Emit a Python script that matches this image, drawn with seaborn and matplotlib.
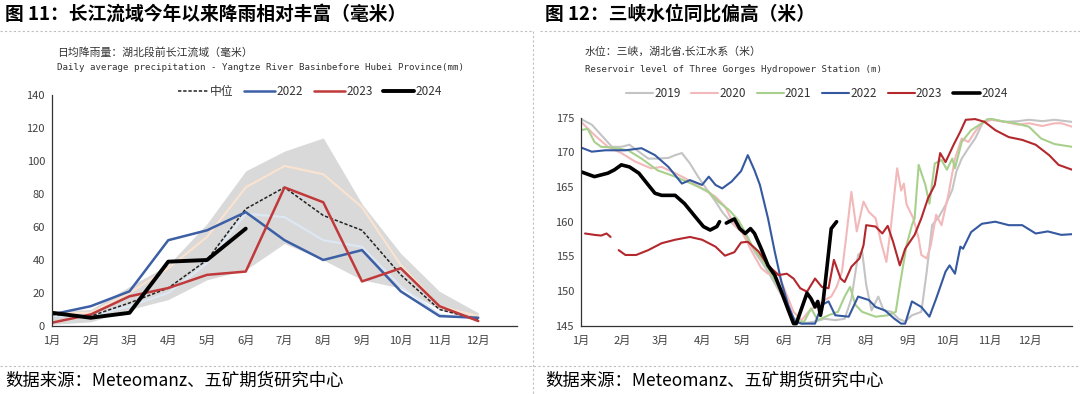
import numpy as np
import pandas as pd
import matplotlib
matplotlib.use('Agg')
import matplotlib.pyplot as plt
from matplotlib.lines import Line2D
import seaborn as sns

sns.set_theme(style='white')
plt.rcParams['font.family'] = ['Noto Sans CJK SC', 'DejaVu Sans']
plt.rcParams['axes.unicode_minus'] = False

# ---------------- left chart: monthly precipitation (mm) ----------------
months = ['1月', '2月', '3月', '4月', '5月', '6月', '7月', '8月', '9月', '10月', '11月', '12月']
rain_max = [9, 10, 24, 37, 62, 94, 106, 114, 74, 44, 21, 8]
rain_min = [1, 2.5, 10, 16, 28, 34, 50, 40, 28, 23, 10, 3]
rain_p75 = [8, 8, 20, 35, 54, 84, 97, 92, 72, 37, 12, 6]
rain_p25 = [6, 6, 12, 20, 38, 68, 66, 52, 48, 24, 7, 4]
rain_median = [7, 6, 14, 23, 40, 71, 84, 67, 58, 31, 10, 4]
rain_2022 = [7, 12, 21, 52, 58, 69, 52, 40, 46, 21, 6, 5]
rain_2023 = [2, 7, 18, 23, 31, 33, 84, 75, 27, 35, 12, 3]
rain_2024 = [8, 5, 8, 39, 40, 59]

# ---------------- right chart: Three Gorges reservoir level (m) ----------------
d2019 = [0, 8, 15, 23, 30, 36, 43, 50, 57, 65, 70, 75, 81, 87, 93, 100, 105, 111, 117, 121, 129, 139, 149,
         157, 164, 174, 181, 189, 196, 201, 206, 209, 212, 216, 221, 225, 231, 236, 241, 246, 253, 257, 261,
         266, 271, 276, 279, 283, 288, 293, 299, 305, 315, 325, 333, 343, 352, 365]
v2019 = [174.8, 174.0, 172.5, 170.8, 170.8, 171.1, 170.1, 169.1, 169.1, 169.2, 169.6, 169.9, 168.4, 166.5,
         164.8, 162.9, 161.4, 160.0, 159.0, 158.5, 155.7, 152.8, 149.4, 146.3, 145.3, 145.6, 146.0, 145.8,
         146.0, 148.9, 155.2, 155.7, 150.9, 147.2, 149.2, 147.2, 147.0, 146.0, 145.6, 146.5, 147.0, 152.8,
         159.5, 160.7, 162.4, 164.6, 167.2, 169.1, 170.6, 172.0, 174.4, 174.8, 174.4, 174.5, 174.7, 174.5,
         174.7, 174.4]

d2020 = [0, 10, 20, 30, 40, 52, 60, 70, 80, 90, 100, 107, 114, 120, 127, 134, 139, 147, 152, 158, 164, 169,
         176, 181, 186, 190, 194, 197, 201, 205, 210, 214, 219, 223, 227, 230, 235, 238, 240, 242, 247, 251,
         253, 257, 260, 264, 268, 273, 278, 283, 288, 293, 298, 305, 315, 325, 333, 343, 352, 357, 365]
v2020 = [174.4, 172.5, 170.8, 169.9, 168.7, 167.7, 167.9, 167.0, 166.0, 164.8, 163.6, 162.2, 159.5, 158.4,
         155.7, 153.3, 152.5, 152.3, 149.9, 147.0, 145.8, 147.0, 148.0, 148.7, 149.2, 150.6, 152.8, 157.6,
         164.3, 158.6, 162.9, 161.4, 160.5, 157.1, 154.2, 158.6, 167.7, 164.5, 165.5, 162.5, 160.5, 157.6,
         155.2, 154.7, 156.6, 161.0, 159.5, 163.8, 169.1, 172.0, 171.5, 173.0, 174.2, 174.7, 174.4, 174.0,
         174.2, 173.8, 174.2, 174.2, 173.7]

d2021 = [0, 5, 10, 15, 23, 35, 45, 57, 70, 82, 95, 102, 110, 117, 122, 127, 139, 149, 155, 159, 166, 171,
         176, 184, 191, 196, 200, 204, 209, 219, 228, 234, 237, 242, 246, 248, 251, 256, 259, 263, 268, 272,
         276, 278, 283, 290, 298, 303, 313, 323, 333, 342, 352, 365]
v2021 = [173.2, 173.4, 171.5, 170.8, 170.7, 170.3, 169.1, 167.4, 166.5, 165.5, 164.3, 162.9, 161.7, 160.2,
         158.5, 156.6, 153.3, 149.9, 147.0, 145.6, 145.6, 147.5, 145.8, 146.5, 147.0, 149.2, 150.6, 148.0,
         147.0, 146.3, 146.5, 147.0, 150.8, 156.6, 159.5, 160.5, 168.2, 165.3, 162.6, 168.4, 168.9, 167.5,
         169.1, 167.7, 171.5, 173.2, 174.2, 174.9, 174.5, 174.2, 173.7, 172.0, 171.2, 170.8]

d2022 = [0, 8, 18, 33, 45, 55, 65, 75, 81, 90, 95, 100, 105, 112, 119, 124, 129, 133, 139, 144, 149, 154,
         159, 164, 174, 179, 184, 189, 199, 206, 214, 219, 226, 233, 238, 241, 246, 253, 259, 264, 271, 274,
         278, 282, 284, 290, 298, 308, 318, 328, 338, 347, 357, 365]
v2022 = [170.7, 170.1, 170.3, 170.3, 170.6, 169.6, 167.9, 165.5, 166.0, 165.3, 166.5, 165.3, 164.8, 165.8,
         167.3, 169.6, 167.4, 165.3, 160.5, 155.7, 151.3, 148.0, 145.6, 145.3, 145.3, 148.0, 148.5, 146.5,
         146.3, 149.2, 148.7, 147.7, 147.2, 146.0, 145.3, 145.3, 148.5, 147.7, 146.3, 148.9, 152.8, 153.7,
         152.5, 156.4, 156.1, 158.5, 159.7, 160.0, 159.5, 159.5, 158.3, 158.6, 158.1, 158.2]

d2023a = [3, 10, 15, 19, 22]
v2023a = [158.3, 158.1, 158.0, 158.3, 157.8]
d2023b = [28, 33, 41, 50, 60, 70, 81, 90, 100, 107, 114, 119, 124, 132, 139, 147, 153, 158, 163, 168, 174,
          179, 184, 188, 193, 196, 201, 207, 210, 212, 219, 224, 228, 232, 237, 241, 248, 253, 258, 263, 267,
          271, 277, 282, 286, 293, 300, 308, 318, 328, 338, 348, 355, 365]
v2023b = [155.9, 155.2, 155.2, 155.9, 156.9, 157.4, 157.8, 157.4, 156.4, 155.1, 155.6, 157.0, 157.1, 155.7,
          153.7, 152.3, 152.5, 151.8, 150.4, 149.9, 151.8, 150.6, 150.4, 154.5, 151.8, 151.3, 153.5, 154.7,
          156.6, 159.5, 159.3, 158.3, 159.4, 157.1, 153.7, 156.1, 158.1, 160.5, 163.4, 165.3, 169.9, 168.6,
          171.1, 173.0, 174.7, 174.8, 174.4, 173.2, 172.2, 171.8, 171.1, 169.6, 168.2, 167.5]

d2024a = [0, 10, 20, 25, 30, 36, 43, 50, 55, 60, 70, 77, 85, 91, 96, 101, 103]
v2024a = [167.2, 166.5, 167.0, 167.5, 168.2, 167.9, 167.0, 165.3, 164.1, 163.8, 163.8, 162.6, 160.7, 159.3,
          158.8, 159.3, 160.0]
d2024b = [108, 114, 118, 122, 126, 129, 134, 139, 144, 149, 154, 158, 160, 164, 168, 171, 174, 176, 178,
          180, 183, 186, 190]
v2024b = [159.8, 160.4, 159.0, 158.3, 159.0, 158.3, 156.1, 153.7, 152.3, 149.9, 147.3, 145.3, 145.3, 147.5,
          149.7, 148.9, 147.7, 148.5, 146.5, 148.5, 153.7, 159.0, 160.0]

month_start = [0, 31, 59, 90, 120, 151, 181, 212, 243, 273, 304, 334]

fig = plt.figure(figsize=(10.8, 3.94), dpi=100)
W, H = 1080, 394


def fx(px):
    return px / W


def fy(py):
    return 1 - py / H


tick_color = '#404040'

# ---------------- left axes ----------------
axL = fig.add_axes([fx(52), fy(326), fx(517 - 52), fy(95) - fy(326)])
xm = np.arange(len(months))
axL.fill_between(xm, rain_min, rain_max, color='#D9D9D9', lw=0)
sns.lineplot(x=xm, y=rain_p75, ax=axL, color='#FBE3CF', lw=1.5)
sns.lineplot(x=xm, y=rain_p25, ax=axL, color='#DDE8F5', lw=1.5)
sns.lineplot(x=xm, y=rain_median, ax=axL, color='#222222', lw=1.1, linestyle=(0, (2.2, 1.2)), label='中位')
sns.lineplot(x=xm, y=rain_2022, ax=axL, color='#3C5FA5', lw=1.8, label='2022')
sns.lineplot(x=xm, y=rain_2023, ax=axL, color='#C0393B', lw=1.8, label='2023')
sns.lineplot(x=xm[:len(rain_2024)], y=rain_2024, ax=axL, color='black', lw=2.8, label='2024')
axL.set_xlim(0, 12)
axL.set_ylim(0, 140)
axL.set_yticks(range(0, 141, 20))
axL.set_xticks(range(13))
axL.set_xticklabels(months + [''])
h, l = axL.get_legend_handles_labels()
axL.legend(h, l, ncol=4, loc='center', bbox_to_anchor=(0.555, 1.015), frameon=False, fontsize=8.5,
           handlelength=2.6, handletextpad=0.15, columnspacing=0.9, labelcolor='#333333')

# ---------------- right axes ----------------
axR = fig.add_axes([fx(581), fy(325.7), fx(1072 - 581), fy(117.7) - fy(325.7)])
right_series = [
    (d2019, v2019, '#C4C4C4', 1.5, '2019'),
    (d2020, v2020, '#F2B8BA', 1.5, '2020'),
    (d2021, v2021, '#A8D08D', 1.5, '2021'),
    (d2022, v2022, '#3559A0', 1.5, '2022'),
    (d2023a, v2023a, '#B3282D', 1.5, None),
    (d2023b, v2023b, '#B3282D', 1.5, '2023'),
    (d2024a, v2024a, 'black', 2.6, None),
    (d2024b, v2024b, 'black', 2.6, '2024'),
]
for dd, vv, c, lw, lab in right_series:
    sns.lineplot(x=dd, y=vv, ax=axR, color=c, lw=lw, label=lab)
axR.set_xlim(0, 365)
axR.set_ylim(145, 175)
axR.set_yticks(range(145, 176, 5))
axR.set_xticks(month_start + [365])
axR.set_xticklabels(months + [''])
h, l = axR.get_legend_handles_labels()
axR.legend(h, l, ncol=6, loc='center', bbox_to_anchor=(0.48, 1.115), frameon=False, fontsize=8.5,
           handlelength=2.3, handletextpad=0.1, columnspacing=0.9, labelcolor='#333333')

for ax in (axL, axR):
    sns.despine(ax=ax)
    for s in ('left', 'bottom'):
        ax.spines[s].set_color('#333333')
        ax.spines[s].set_linewidth(0.9)
    ax.tick_params(axis='both', which='both', direction='out', length=3, width=0.8,
                   colors='#333333', labelsize=8, labelcolor=tick_color, pad=2)
    ax.tick_params(axis='x', length=4, pad=3)
    ax.set_xlabel('')
    ax.set_ylabel('')
    ax.grid(False)

# ---------------- titles, notes, separators ----------------
fig.text(fx(5), fy(14), '图 11：长江流域今年以来降雨相对丰富（毫米）', fontsize=13.5, weight='bold',
         va='center', ha='left', color='black')
fig.text(fx(545), fy(14), '图 12：三峡水位同比偏高（米）', fontsize=13.5, weight='bold',
         va='center', ha='left', color='black')

fig.text(fx(57), fy(52), '日均降雨量：湖北段前长江流域（毫米）', fontsize=7.8, va='center', color='#333333')
fig.text(fx(57), fy(68), 'Daily average precipitation - Yangtze River Basinbefore Hubei Province(mm)',
         fontsize=6.6, va='center', color='#333333', family=['DejaVu Sans Mono'])
fig.text(fx(585), fy(52), '水位：三峡，湖北省.长江水系（米）', fontsize=7.8, va='center', color='#333333')
fig.text(fx(585), fy(69), 'Reservoir level of Three Gorges Hydropower Station (m)',
         fontsize=6.6, va='center', color='#333333', family=['DejaVu Sans Mono'])

fig.text(fx(5), fy(381), '数据来源：Meteomanz、五矿期货研究中心', fontsize=12.5, va='center', color='black')
fig.text(fx(545), fy(381), '数据来源：Meteomanz、五矿期货研究中心', fontsize=12.5, va='center', color='black')

dash = dict(transform=fig.transFigure, color='#BFBFBF', lw=0.8, linestyle=(0, (2, 2)))
fig.add_artist(Line2D([0, fx(533)], [fy(31), fy(31)], **dash))
fig.add_artist(Line2D([fx(540), 1], [fy(31), fy(31)], **dash))
fig.add_artist(Line2D([0, 1], [fy(366), fy(366)], **dash))
fig.add_artist(Line2D([fx(533), fx(533)], [fy(31), 0], **dash))

fig.savefig('out.png', dpi=100)
